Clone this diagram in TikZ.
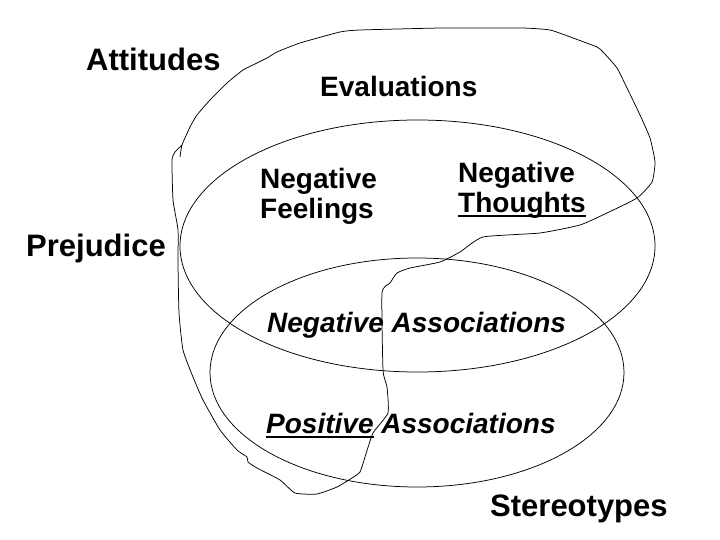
\documentclass[tikz,border=0pt]{standalone}
\usepackage{fontspec}
\setmainfont{Liberation Sans}
\usepackage{tikz}

\newcommand\ulword[1]{\setbox0\hbox{#1}\rlap{\rule[-5bp]{\wd0}{2bp}}\box0\relax}

\tikzset{
  thinline/.style={line width=0.75bp},
  biglbl/.style={font=\bfseries\fontsize{31bp}{33bp}\selectfont,inner sep=0pt,anchor=base west},
  lbl/.style={font=\bfseries\fontsize{28bp}{30bp}\selectfont,inner sep=0pt,anchor=base west},
  twolbl/.style={lbl,align=left,anchor=north west}
}

\begin{document}
\begin{tikzpicture}[x=1bp,y=-1bp]
  \useasboundingbox (0,0) rectangle (720,540);
  % evaluations and stereotypes
  \draw[thinline] (417.5,246) ellipse [x radius=237.5, y radius=126];
  \draw[thinline] (417,372.5) ellipse [x radius=207, y radius=114.5];
  % the attitudes / prejudice loop, drawn by hand
  \draw[thinline] plot[smooth,tension=0.3] coordinates {
    (180,157) (182,145) (190,127) (197,115) (210,100) (227,83) (243,70)
    (257,63) (267,58) (277,52) (300,43) (340,32) (360,30) (440,28)
    (473,28) (523,28) (550,30) (573,38) (597,47) (603,52) (617,68)
    (627,88) (640,115) (650,138) (655,162) (652,182) (637,198) (607,213)
    (580,225) (540,233) (483,237) (460,252) (440,262) (410,268) (397,273)
    (390,283) (382,293) (383,370) (387,387) (388,413) (373,433) (365,457)
    (360,472) (352,478) (337,487) (317,494) (295,493) (280,480) (257,468)
    (248,462) (247,457) (237,450) (220,430) (203,400) (193,377) (183,350)
    (179,313) (178,263) (178,230) (173,200) (172,160) (175,152) (182,145)};
  % labels
  \node[biglbl] (attitudes) at (86,71) {Attitudes};
  \node[biglbl] (prejudice) at (26,257) {Prejudice};
  \node[biglbl] (stereotypes) at (490,516) {Stereotypes};
  \node[lbl] (evaluations) at (320,97) {Evaluations};
  \node[twolbl] (negfeel) at (260,168) {Negative\\Feelings};
  \node[twolbl] (negthought) at (458,162) {Negative\\\ulword{Thoughts}};
  \node[lbl,font=\bfseries\itshape\fontsize{28bp}{30bp}\selectfont] (negassoc) at (267,332) {Negative Associations};
  \node[lbl,font=\bfseries\itshape\fontsize{28bp}{30bp}\selectfont] (posassoc) at (266,433) {\ulword{Positive} Associations};
\end{tikzpicture}
\end{document}
